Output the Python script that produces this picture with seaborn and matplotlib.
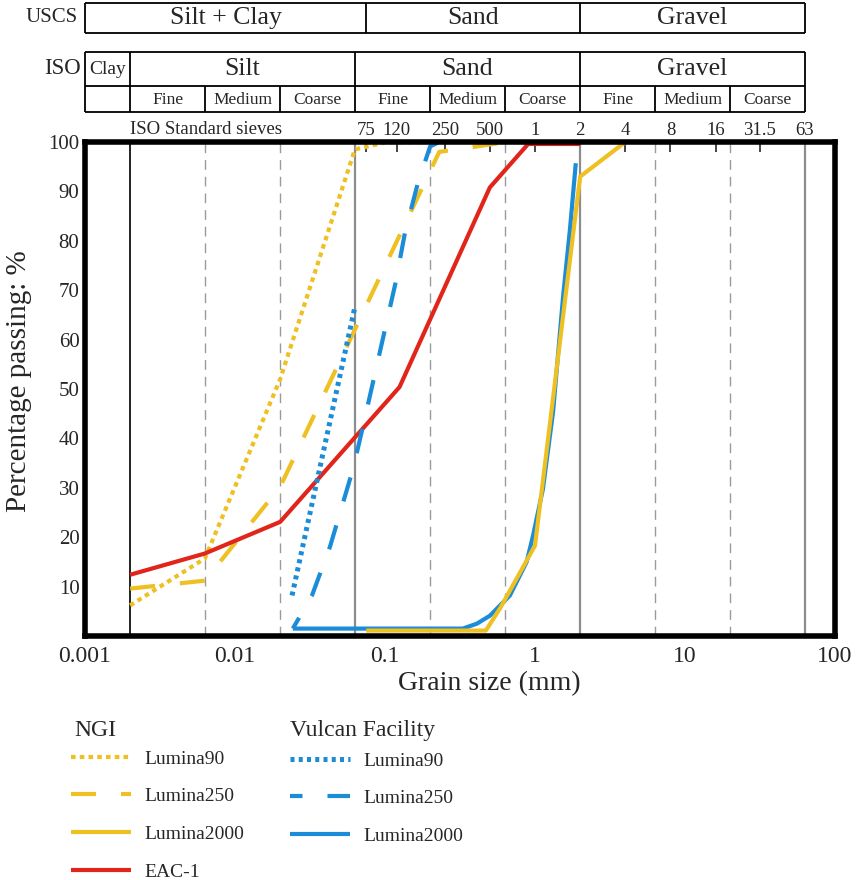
import matplotlib
matplotlib.use("Agg")
import matplotlib.pyplot as plt
import matplotlib.transforms as mtransforms
from matplotlib.ticker import NullLocator
import numpy as np
import seaborn as sns

# Grain size (mm) and percentage passing
ngi90_size = [0.002, 0.0063, 0.02, 0.063, 0.1, 0.2]
ngi90_pass = [6.2, 15.7, 52.0, 98.5, 99.9, 100]
ngi250_size = [0.002, 0.0063, 0.02, 0.23, 0.39, 0.65, 1.0]
ngi250_pass = [9.6, 11.2, 30.2, 98.0, 99.0, 100, 100]
ngi2000_size = [0.075, 0.47, 0.585, 1.0, 2.0, 4.0]
ngi2000_pass = [1.1, 1.1, 5.6, 18.3, 93.0, 100]
eac1_size = [0.002, 0.0063, 0.02, 0.125, 0.5, 0.9, 2.0]
eac1_pass = [12.4, 16.7, 23.1, 50.4, 90.8, 99.6, 99.6]

vul90_size = [0.024, 0.063]
vul90_pass = [8.2, 66.6]
vul250_size = [0.0243, 0.0326, 0.043, 0.0612, 0.0714, 0.117, 0.136, 0.166, 0.2, 0.226]
vul250_pass = [1.5, 8.2, 18.1, 33.8, 42.5, 71.2, 81.7, 91.8, 99.1, 99.9]
vul2000_size = [0.0243, 0.33, 0.41, 0.5, 0.68, 0.88, 0.97, 1.13, 1.32, 1.54, 1.71, 1.87]
vul2000_pass = [1.5, 1.5, 2.5, 4.1, 8.2, 15.0, 20.3, 29.8, 45.4, 68.8, 82.3, 95.7]

# Classification tables
uscs_names = ["Silt + Clay", "Sand", "Gravel"]
uscs_edges = [0.001, 0.075, 2, 63]
iso_names = ["Clay", "Silt", "Sand", "Gravel"]
iso_edges = [0.001, 0.002, 0.063, 2, 63]
iso_sub_names = ["Fine", "Medium", "Coarse"] * 3
iso_sub_edges = [0.002, 0.0063, 0.02, 0.063, 0.2, 0.63, 2, 6.3, 20, 63]

sieve_sizes = [0.075, 0.12, 0.25, 0.5, 1, 2, 4, 8, 16, 31.5, 63]
sieve_labels = ["75", "120", "250", "500", "1", "2", "4", "8", "16", "31.5", "63"]

x_ticks = [0.001, 0.01, 0.1, 1, 10, 100]
x_tick_labels = ["0.001", "0.01", "0.1", "1", "10", "100"]
y_ticks = [10, 20, 30, 40, 50, 60, 70, 80, 90, 100]

YELLOW = "#EFC022"
BLUE = "#1A8CD8"
RED = "#E1251B"

sns.set_style("white")
plt.rcParams["font.family"] = ["Liberation Serif", "DejaVu Serif"]

W, H = 858, 880
fig = plt.figure(figsize=(W / 100, H / 100), dpi=100)
ax = fig.add_axes([85 / W, (H - 636) / H, 750 / W, (636 - 142) / H])
ax.set_xscale("log")
ax.set_xlim(0.001, 100)
ax.set_ylim(0, 100)

# boundary lines
ax.axvline(0.002, color="#111111", lw=1.3, zorder=1)
for b in [0.0063, 0.02, 0.2, 0.63, 6.3, 20]:
    ax.axvline(b, color="#9a9a9a", lw=1.0, linestyle=(0, (7, 5)), zorder=1)
for b in [0.063, 2, 63]:
    ax.axvline(b, color="#8c8c8c", lw=1.6, zorder=1)

def draw(xs, ys, color, lw, ls):
    sns.lineplot(x=xs, y=ys, ax=ax, sort=False, estimator=None, color=color,
                 linewidth=lw, linestyle=ls, dash_capstyle="butt",
                 solid_capstyle="butt", legend=False)
    return ax.lines[-1]

l_ngi90 = draw(ngi90_size, ngi90_pass, YELLOW, 3, (0, (1.1, 1.0)))
l_ngi250 = draw(ngi250_size, ngi250_pass, YELLOW, 3, (0, (6, 6)))
l_eac = draw(eac1_size, eac1_pass, RED, 3, "-")
l_vul90 = draw(vul90_size, vul90_pass, BLUE, 3.6, (0, (0.8, 0.85)))
l_vul250 = draw(vul250_size, vul250_pass, BLUE, 3, (3, (6, 6)))
l_vul2000 = draw(vul2000_size, vul2000_pass, BLUE, 3, "-")
l_ngi2000 = draw(ngi2000_size, ngi2000_pass, YELLOW, 3, "-")

for s in ax.spines.values():
    s.set_linewidth(4)
    s.set_color("black")
    s.set_zorder(5)

ax.set_xticks(x_ticks, labels=x_tick_labels)
ax.xaxis.set_minor_locator(NullLocator())
ax.set_yticks(y_ticks, labels=[str(v) for v in y_ticks])
ax.tick_params(axis="both", direction="in", length=8.5, width=1.2, color="black")
ax.tick_params(axis="x", labelsize=17, pad=7)
ax.tick_params(axis="y", labelsize=15, pad=4)

top = ax.secondary_xaxis("top")
top.set_xticks(sieve_sizes, labels=sieve_labels)
top.xaxis.set_minor_locator(NullLocator())
top.tick_params(direction="in", length=7, width=1.2, labelsize=13.5, pad=2)
top.spines["top"].set_visible(False)

ax.set_ylabel("Percentage passing: %", fontsize=21)
ax.yaxis.set_label_coords(-0.0707, 0.516)
ax.set_xlabel("Grain size (mm)", fontsize=20)
ax.xaxis.set_label_coords(0.539, -0.071)

# header tables
hdr = fig.add_axes([85 / W, (H - 142) / H, 750 / W, 142 / H])
hdr.set_xscale("log")
hdr.set_xlim(0.001, 100)
hdr.set_ylim(142, 0)
hdr.axis("off")
kw = dict(color="black", lw=1.3, clip_on=False)
hdr.hlines([3, 33], uscs_edges[0], uscs_edges[-1], **kw)
hdr.vlines(uscs_edges, 3, 33, **kw)
hdr.hlines([52, 86, 112], iso_edges[0], iso_edges[-1], **kw)
hdr.vlines(iso_edges, 52, 112, **kw)
hdr.vlines([0.0063, 0.02, 0.2, 0.63, 6.3, 20], 86, 112, **kw)

for name, a, b in zip(uscs_names, uscs_edges[:-1], uscs_edges[1:]):
    hdr.text(np.sqrt(a * b), 18, name, ha="center", va="center", fontsize=18.5)
for name, a, b in zip(iso_names, iso_edges[:-1], iso_edges[1:]):
    hdr.text(np.sqrt(a * b), 69, name, ha="center", va="center",
             fontsize=14 if name == "Clay" else 18.5)
for name, a, b in zip(iso_sub_names, iso_sub_edges[:-1], iso_sub_edges[1:]):
    hdr.text(np.sqrt(a * b), 100, name, ha="center", va="center", fontsize=12.5)

trans = mtransforms.blended_transform_factory(fig.transFigure, hdr.transData)
hdr.text(78 / W, 18, "USCS", transform=trans, ha="right", va="center", fontsize=15)
hdr.text(81 / W, 69, "ISO", transform=trans, ha="right", va="center", fontsize=16.5)
hdr.text(0.002, 130, "ISO Standard sieves", ha="left", va="center", fontsize=13.5)

# legends
leg_kw = dict(loc="upper left", frameon=False, fontsize=14, handlelength=3.1,
              handletextpad=0.7, labelspacing=1.03, borderpad=0, borderaxespad=0)
fig.legend(handles=[l_ngi90, l_ngi250, l_ngi2000, l_eac],
           labels=["Lumina90", "Lumina250", "Lumina2000", "EAC-1"],
           bbox_to_anchor=(71 / W, 1 - 750 / H), **leg_kw)
fig.legend(handles=[l_vul90, l_vul250, l_vul2000],
           labels=["Lumina90", "Lumina250", "Lumina2000"],
           bbox_to_anchor=(290 / W, 1 - 752 / H), **leg_kw)
fig.text(74 / W, 1 - 730 / H, "NGI", fontsize=17, ha="left", va="center")
fig.text(290 / W, 1 - 730 / H, "Vulcan Facility", fontsize=17, ha="left", va="center")

fig.savefig("out.png", dpi=100)
